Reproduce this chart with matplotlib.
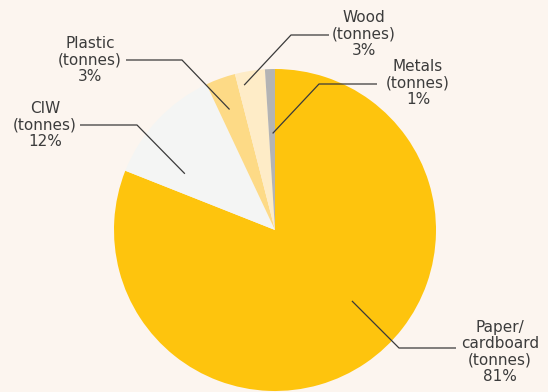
import numpy as np
import matplotlib.pyplot as plt

# waste composition by material, share of total tonnes
materials = ["Paper/\ncardboard", "CIW", "Plastic", "Wood", "Metals"]
shares = [81, 12, 3, 3, 1]
colors = ["#FEC40D", "#F4F5F4", "#FDDA86", "#FEECC7", "#B4B4B4"]

# label centres (px from top-left) and leader anchors (fraction along wedge, fraction of radius)
label_pos = [(500, 352), (45, 125), (90, 60), (364, 34), (418, 83)]
anchor_frac = [(0.545, 0.65), (0.76, 0.66), (0.58, 0.80), (0.78, 0.92), (0.39, 0.60)]
elbow_pos = [(399, 348), (137, 125), (182, 60), (291, 35), (319, 84)]
line_end = [(456, 348), (80, 125), (126, 60), (329, 35), (377, 84)]

W, H = 548, 392
bg = "#FCF5EF"

fig = plt.figure(figsize=(W / 100, H / 100), dpi=100, facecolor=bg)
ax = fig.add_axes([0, 0, 1, 1])
ax.set_facecolor(bg)

cx, cy, R = 275, H - 230, 161
wedges, _ = ax.pie(shares, colors=colors, startangle=90, counterclock=False,
                   center=(cx, cy), radius=R, frame=True,
                   wedgeprops=dict(linewidth=0))
ax.set_xlim(0, W)
ax.set_ylim(0, H)
ax.set_aspect("equal")
ax.axis("off")

for w, name, pct, (lx, ly), (fa, fr), (ex, ey), (tx, ty) in zip(
        wedges, materials, shares, label_pos, anchor_frac, elbow_pos, line_end):
    ang = np.deg2rad(w.theta1 + fa * (w.theta2 - w.theta1))
    px = cx + fr * R * np.cos(ang)
    py = cy + fr * R * np.sin(ang)
    ax.plot([px, ex, tx], [py, H - ey, H - ty], color="#3a3a3a", lw=0.9,
            solid_capstyle="butt")
    ax.text(lx, H - ly, f"{name}\n(tonnes)\n{pct}%", ha="center", va="center",
            fontsize=11, color="#3c3c3c", linespacing=1.1,
            family=["DejaVu Sans"])

fig.savefig("out.png", dpi=100, facecolor=bg)
